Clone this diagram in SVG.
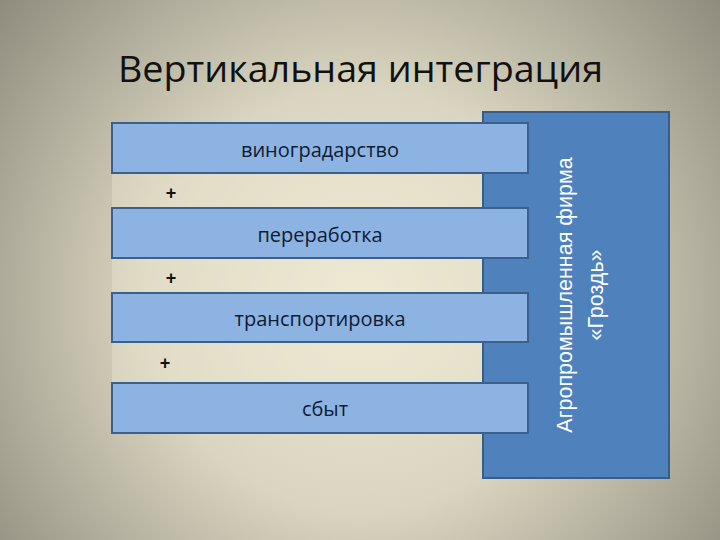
<svg xmlns="http://www.w3.org/2000/svg" width="720" height="540" viewBox="0 0 720 540">
  <defs>
    <radialGradient id="bg" cx="360" cy="300" r="470" gradientUnits="userSpaceOnUse">
      <stop offset="0" stop-color="#ece8d3"/>
      <stop offset="0.45" stop-color="#d9d5c0"/>
      <stop offset="1" stop-color="#8e8b7d"/>
    </radialGradient>
    <style>
      .box { fill: #8db3e2; stroke: #3b5f8e; stroke-width: 2; }
      .firm { fill: #4f81bd; stroke: #385d8a; stroke-width: 2; }
      .lbl { font-family: "Open Sans", "Liberation Sans", sans-serif; font-size: 20px; fill: #0f1b33; text-anchor: middle; }
      .plus { font-family: "Liberation Sans", sans-serif; font-size: 18px; font-weight: bold; fill: #111; text-anchor: middle; }
      .vt { font-family: "Liberation Sans", sans-serif; font-size: 21.5px; fill: #ffffff; text-anchor: middle; }
      .title { font-family: "Open Sans", "Liberation Sans", sans-serif; font-size: 37px; fill: #111; }
    </style>
  </defs>
  <rect width="720" height="540" fill="url(#bg)"/>
  <text class="title" x="118" y="82" textLength="485" lengthAdjust="spacingAndGlyphs">Вертикальная интеграция</text>
  <rect x="112" y="123" width="372" height="310" fill="#f1ecd4" opacity="0.35"/>
  <g id="firm">
    <rect class="firm" x="483" y="112" width="186" height="366"/>
    <text class="vt" transform="translate(572,295) rotate(-90)">Агропромышленная фирма</text>
    <text class="vt" transform="translate(603,295) rotate(-90)">«Гроздь»</text>
  </g>
  <g id="n1">
    <rect class="box" x="112" y="123" width="416" height="50"/>
    <text class="lbl" x="320" y="157">виноградарство</text>
  </g>
  <g id="n2">
    <rect class="box" x="112" y="208" width="416" height="50"/>
    <text class="lbl" x="320" y="242">переработка</text>
  </g>
  <g id="n3">
    <rect class="box" x="112" y="293" width="416" height="49"/>
    <text class="lbl" x="320" y="326">транспортировка</text>
  </g>
  <g id="n4">
    <rect class="box" x="112" y="383" width="416" height="50"/>
    <text class="lbl" x="325" y="416">сбыт</text>
  </g>
  <g id="connectors">
    <text class="plus" x="171" y="199">+</text>
    <text class="plus" x="171" y="284">+</text>
    <text class="plus" x="165" y="369">+</text>
  </g>
</svg>
